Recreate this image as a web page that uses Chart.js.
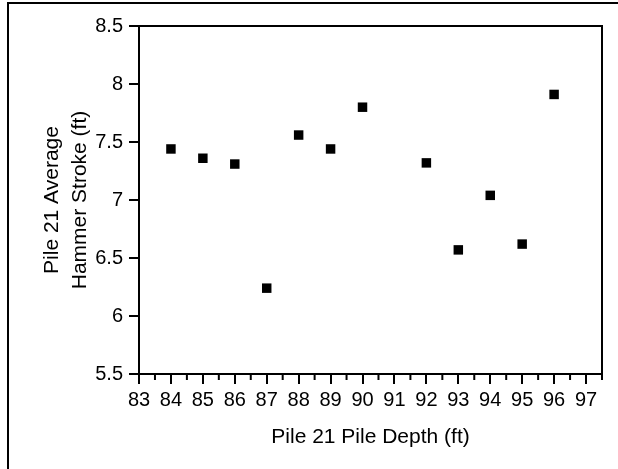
<!DOCTYPE html>
<html>
<head>
<meta charset="utf-8">
<script src="https://cdn.jsdelivr.net/npm/chart.js@4/dist/chart.umd.min.js"></script>
<style>
  html, body { margin: 0; padding: 0; background: #fff; }
  #wrap { width: 618px; height: 469px; }
</style>
</head>
<body>
<div id="wrap"><canvas id="strokeChart"></canvas></div>
<script>
// pile depth (ft) and average hammer stroke (ft)
const depths  = [84, 85, 86, 87, 88, 89, 90, 92, 93, 94, 95, 96];
const strokes = [7.44, 7.36, 7.31, 6.24, 7.56, 7.44, 7.80, 7.32, 6.57, 7.04, 6.62, 7.91];

const xRange = [83, 97.5];
const yRange = [5.5, 8.5];
const xMinorTicks = [83.5, 84.5, 85.5, 86.5, 87.5, 88.5, 89.5, 90.5, 91.5, 92.5, 93.5, 94.5, 95.5, 96.5, 97.5];

const xTitle = "Pile 21 Pile Depth (ft)";
const yTitle = ["Pile 21 Average", "Hammer Stroke (ft)"];

// box round the plot, short ticks between the whole feet, page frame
const framePlugin = {
    id: "frame",
    afterDraw(chart) {
        const { ctx, chartArea: a, scales } = chart;
        ctx.save();
        ctx.strokeStyle = "#000";
        ctx.lineWidth = 2;
        ctx.beginPath();
        ctx.moveTo(a.left, a.top);
        ctx.lineTo(a.right, a.top);
        ctx.lineTo(a.right, a.bottom);
        ctx.stroke();

        ctx.beginPath();
        xMinorTicks.forEach(v => {
            const px = scales.x.getPixelForValue(v);
            ctx.moveTo(px, a.bottom);
            ctx.lineTo(px, a.bottom + 6);
        });
        ctx.stroke();

        ctx.beginPath();
        ctx.moveTo(8, chart.height);
        ctx.lineTo(8, 3);
        ctx.lineTo(chart.width, 3);
        ctx.stroke();
        ctx.restore();
    }
};

new Chart(document.getElementById("strokeChart"), {
    type: "scatter",
    data: {
        datasets: [{
            data: depths.map((d, i) => ({ x: d, y: strokes[i] })),
            pointStyle: "rect",
            pointRadius: 6.7,
            pointHoverRadius: 6.7,
            backgroundColor: "#000",
            borderWidth: 0
        }]
    },
    options: {
        responsive: true,
        maintainAspectRatio: false,
        animation: false,
        layout: { padding: { left: 0, top: 26, right: 16, bottom: 0 } },
        scales: {
            x: {
                type: "linear",
                min: xRange[0],
                max: xRange[1],
                afterBuildTicks: s => { s.ticks = []; for (let v = 83; v <= 97; v++) s.ticks.push({ value: v }); },
                afterFit: s => { s.height = 95; },
                ticks: { color: "#000", font: { family: "Liberation Sans", size: 20 }, padding: 4, maxRotation: 0, autoSkip: false },
                grid: { drawOnChartArea: false, color: "#000", lineWidth: 2, tickLength: 10 },
                border: { color: "#000", width: 2 },
                title: { display: true, text: xTitle, color: "#000", font: { family: "Liberation Sans", size: 21 }, padding: { top: 0, bottom: 19 } }
            },
            y: {
                min: yRange[0],
                max: yRange[1],
                afterFit: s => { s.width = 139; },
                ticks: { stepSize: 0.5, color: "#000", font: { family: "Liberation Sans", size: 20 }, padding: 6,
                         callback: v => String(v) },
                grid: { drawOnChartArea: false, color: "#000", lineWidth: 2, tickLength: 10 },
                border: { color: "#000", width: 2 },
                title: { display: true, text: yTitle, color: "#000", font: { family: "Liberation Sans", size: 21, lineHeight: 1.3 }, padding: { top: 39, bottom: 0 } }
            }
        },
        plugins: {
            legend: { display: false },
            tooltip: { enabled: false }
        }
    },
    plugins: [framePlugin]
});
</script>
</body>
</html>
